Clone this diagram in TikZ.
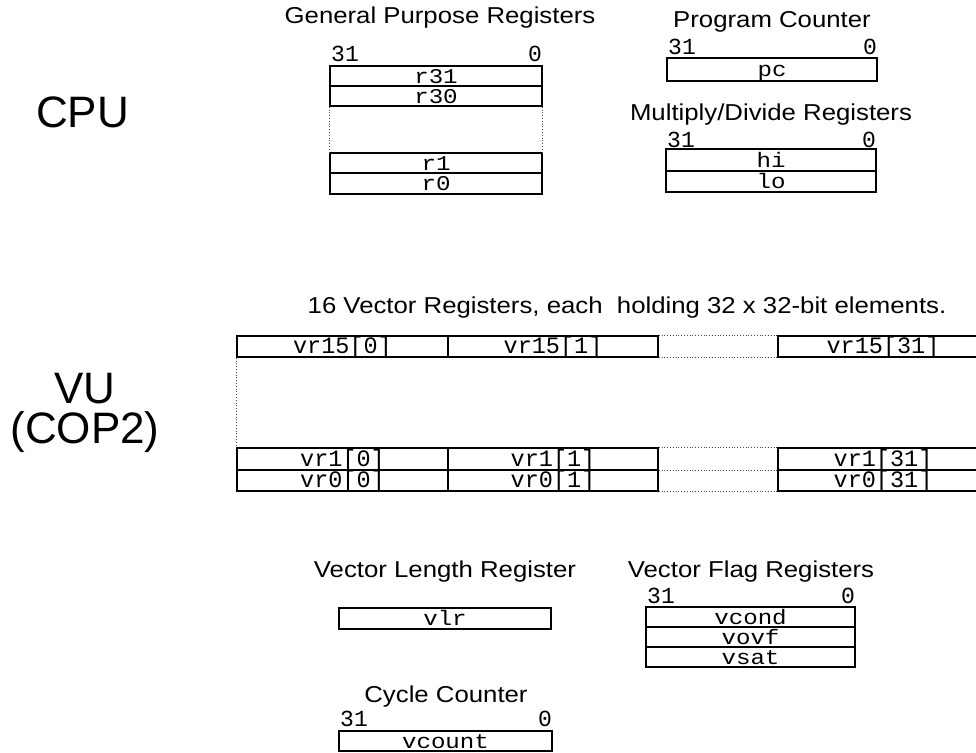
\documentclass[tikz,border=0pt]{standalone}
\usepackage{fontspec}
\setmainfont{Liberation Sans}
\newfontfamily\titlefont[FakeStretch=1.12]{Liberation Sans}
\newfontfamily\regfont[FakeStretch=1.15]{Liberation Mono}
\newfontfamily\bitfont{Liberation Mono}

% \regrow[style]{name}{x1}{y1}{x2}{y2}{text}: one register cell given by its corners
\newcommand\regrow[7][reg]{%
  \node[#1, minimum width={(#5-#3)*1pt}, minimum height={(#6-#4)*1pt}]
    (#2) at ({(#3+#5)/2},{(#4+#6)/2}) {#7};}
% \bits{x-left}{x-right}{baseline}{name}: the 31 ... 0 bit numbering above a register
\newcommand\bits[4]{%
  \node[bit, anchor=base west] (#4-msb) at (#1,#3) {31};
  \node[bit, anchor=base east] (#4-lsb) at (#2,#3) {0};}

\begin{document}
\begin{tikzpicture}[x=1pt,y=-1pt,
  title/.style={font=\titlefont\fontsize{23}{26}\selectfont, anchor=base, inner sep=0},
  unit/.style={font=\fontsize{44}{48}\selectfont, anchor=base, inner sep=0},
  bit/.style={font=\bitfont\fontsize{23}{26}\selectfont, inner sep=0},
  reg/.style={draw, line width=1.4pt, inner sep=0, text height=14pt, text depth=0pt,
              font=\regfont\fontsize{21}{24}\selectfont},
  vreg/.style={reg, font=\bitfont\fontsize{23.5}{26}\selectfont},
  gap/.style={dotted, line width=0.8pt, black!70}]
\useasboundingbox (0,0) rectangle (976,752);
\clip (0,0) rectangle (976,752);

% ---------- CPU ----------
\node[unit] (cpu) at (82.5,127) {CPU};

\node[title] (gprT) at (440,24) {General Purpose Registers};
\bits{331}{542}{61}{gpr}
\regrow{r31}{330}{66}{542}{86}{r31}
\regrow{r30}{330}{86}{542}{106}{r30}
\regrow{r1}{330}{153}{542}{173}{r1}
\regrow{r0}{330}{173}{542}{194}{r0}
\draw[gap] (r30.south west) -- (r1.north west);
\draw[gap] (r30.south east) -- (r1.north east);

\node[title] (pcT) at (772,28) {Program Counter};
\bits{668}{877}{55}{pcb}
\regrow{pc}{667}{58}{877}{81}{pc}

\node[title] (mdT) at (771,120) {Multiply/Divide Registers};
\bits{667}{876}{147}{mdb}
\regrow{hi}{666}{149}{876}{171}{hi}
\regrow{lo}{666}{171}{876}{192}{lo}

% ---------- VU ----------
\node[unit] (vu) at (85,403) {VU};
\node[unit] (cop) at (85,443) {(COP2)};

\node[title] (vrT) at (627,313) {16 Vector Registers, each \ holding 32 x 32-bit elements.};
\regrow[vreg]{v15a}{237}{336}{448}{357}{vr15[0]}
\regrow[vreg]{v15b}{448}{336}{658}{357}{vr15[1]}
\regrow[vreg]{v15c}{778}{336}{988}{357}{vr15[31]}
\regrow[vreg]{v1a}{237}{448}{448}{470}{vr1[0]}
\regrow[vreg]{v1b}{448}{448}{658}{470}{vr1[1]}
\regrow[vreg]{v1c}{778}{448}{988}{470}{vr1[31]}
\regrow[vreg]{v0a}{237}{470}{448}{491}{vr0[0]}
\regrow[vreg]{v0b}{448}{470}{658}{491}{vr0[1]}
\regrow[vreg]{v0c}{778}{470}{988}{491}{vr0[31]}
\draw[gap] (v15a.south west) -- (v1a.north west);
\draw[gap] (v15b.north east) -- (v15c.north west);
\draw[gap] (v15b.south east) -- (v15c.south west);
\draw[gap] (v1b.north east) -- (v1c.north west);
\draw[gap] (v1b.south east) -- (v1c.south west);
\draw[gap] (v0b.south east) -- (v0c.south west);

\node[title] (vlrT) at (445,577) {Vector Length Register};
\regrow{vlr}{339}{608}{551}{629}{vlr}

\node[title] (vfT) at (751,577) {Vector Flag Registers};
\bits{647}{855}{603}{vfb}
\regrow{vcond}{646}{607}{855}{627}{vcond}
\regrow{vovf}{646}{627}{855}{647}{vovf}
\regrow{vsat}{646}{647}{855}{667}{vsat}

\node[title] (ccT) at (446,702) {Cycle Counter};
\bits{340}{552}{726}{ccb}
\regrow{vcount}{339}{731}{552}{751}{vcount}
\end{tikzpicture}
\end{document}
